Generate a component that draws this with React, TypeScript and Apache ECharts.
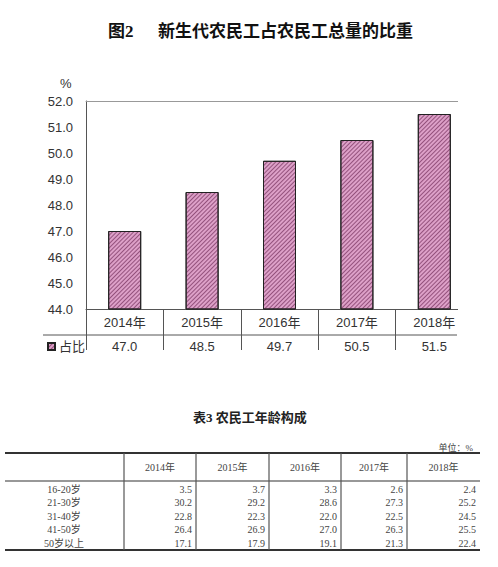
import React, { useEffect, useRef } from 'react';
import * as echarts from 'echarts';

const years = ['2014', '2015', '2016', '2017', '2018'];
const shares = [47.0, 48.5, 49.7, 50.5, 51.5];

const ageGroups = ['16-20岁', '21-30岁', '31-40岁', '41-50岁', '50岁以上'];
const age2014 = [3.5, 30.2, 22.8, 26.4, 17.1];
const age2015 = [3.7, 29.2, 22.3, 26.9, 17.9];
const age2016 = [3.3, 28.6, 22.0, 27.0, 19.1];
const age2017 = [2.6, 27.3, 22.5, 26.3, 21.3];
const age2018 = [2.4, 25.2, 24.5, 25.5, 22.4];
const ageColumns = [age2014, age2015, age2016, age2017, age2018];

const sans = "'Liberation Sans', Arial, 'Noto Sans CJK SC', sans-serif";
const serif = "'Liberation Serif', 'Noto Sans CJK SC', serif";

// table layout
const colEdges = [124, 196, 269, 341, 407, 480];
const tableLeft = 5;
const tableTop = 453;
const headBottom = 481;
const tableBottom = 550;
const rowY = [489, 502.5, 516, 529.5, 543];

const buildTable = () => {
  const els: any[] = [];
  const hline = (y: number, w: number) => ({
    type: 'line',
    shape: { x1: tableLeft, y1: y, x2: colEdges[colEdges.length - 1], y2: y },
    style: { stroke: '#333', lineWidth: w },
  });
  els.push(hline(tableTop, 2), hline(headBottom, 1.2), hline(tableBottom, 2));
  colEdges.slice(0, -1).forEach((x) => {
    els.push({
      type: 'line',
      shape: { x1: x, y1: tableTop, x2: x, y2: tableBottom },
      style: { stroke: '#555', lineWidth: 1.2 },
    });
  });
  years.forEach((y, i) => {
    els.push({
      type: 'text',
      x: (colEdges[i] + colEdges[i + 1]) / 2,
      y: (tableTop + headBottom) / 2,
      style: { text: `${y}年`, font: `10px ${serif}`, fill: '#444', align: 'center', verticalAlign: 'middle' },
    });
  });
  ageGroups.forEach((g, r) => {
    els.push({
      type: 'text',
      x: 64,
      y: rowY[r],
      style: { text: g, font: `10px ${serif}`, fill: '#444', align: 'center', verticalAlign: 'middle' },
    });
    ageColumns.forEach((col, c) => {
      els.push({
        type: 'text',
        x: colEdges[c + 1] - 4,
        y: rowY[r],
        style: { text: col[r].toFixed(1), font: `10px ${serif}`, fill: '#444', align: 'right', verticalAlign: 'middle' },
      });
    });
  });
  return els;
};

const App = () => {
  const chartRef = useRef<HTMLDivElement>(null);

  useEffect(() => {
    document.body.style.margin = '0';
    if (!chartRef.current) return;
    const chart = echarts.init(chartRef.current, undefined, { renderer: 'svg' });

    const option: any = {
      animation: false,
      backgroundColor: '#fff',
      title: [
        {
          text: '图2',
          left: 103,
          top: 18,
          textStyle: { fontSize: 17, fontWeight: 'bold', color: '#111', fontFamily: serif },
        },
        {
          text: '新生代农民工占农民工总量的比重',
          left: 153,
          top: 18,
          textStyle: { fontSize: 17, fontWeight: 'bold', color: '#111', fontFamily: serif },
        },
        {
          text: '%',
          left: 55,
          top: 72,
          textStyle: { fontSize: 13, fontWeight: 'normal', color: '#333', fontFamily: sans },
        },
        {
          text: '表3 农民工年龄构成',
          left: 188,
          top: 406,
          textStyle: { fontSize: 13, fontWeight: 'bold', color: '#222', fontFamily: serif },
        },
        {
          text: '单位：%',
          right: 20,
          top: 438,
          textStyle: { fontSize: 9, fontWeight: 'normal', color: '#444', fontFamily: serif },
        },
      ],
      legend: {
        data: ['占比'],
        left: 42,
        top: 335,
        icon: 'rect',
        itemWidth: 7,
        itemHeight: 7,
        itemGap: 5,
        textStyle: { fontSize: 13, color: '#333', fontFamily: sans, padding: [0, 0, 0, -1] },
      },
      grid: { left: 86, top: 101, width: 387, height: 208 },
      xAxis: [
        {
          type: 'category',
          data: years.map((y) => `${y}年`),
          position: 'bottom',
          axisLine: { lineStyle: { color: '#555', width: 1 } },
          axisTick: { show: true, length: 41, lineStyle: { color: '#555' } },
          axisLabel: { margin: 7, fontSize: 13, color: '#333', fontFamily: sans },
        },
        {
          type: 'category',
          data: shares.map((v) => v.toFixed(1)),
          position: 'bottom',
          offset: 26,
          axisLine: { show: false },
          axisTick: { show: false },
          axisLabel: { margin: 5, fontSize: 13, color: '#333', fontFamily: sans },
        },
        {
          type: 'category',
          data: years,
          position: 'top',
          axisLine: { lineStyle: { color: '#999', width: 1 } },
          axisTick: { show: false },
          axisLabel: { show: false },
        },
      ],
      yAxis: {
        type: 'value',
        min: 44,
        max: 52,
        interval: 1,
        axisLine: { show: true, lineStyle: { color: '#555' } },
        axisTick: { show: false },
        splitLine: { show: false },
        axisLabel: {
          margin: 13,
          fontSize: 13,
          color: '#333',
          fontFamily: sans,
          formatter: (v: number) => v.toFixed(1),
        },
      },
      series: [
        {
          name: '占比',
          type: 'bar',
          xAxisIndex: 0,
          data: shares,
          barWidth: 33,
          itemStyle: {
            color: '#DDA0C8',
            borderColor: '#222',
            borderWidth: 1,
            decal: {
              symbol: 'rect',
              symbolSize: 1,
              color: 'rgba(100,30,75,0.6)',
              dashArrayX: [1, 0],
              dashArrayY: [0.8, 1.6],
              rotation: -Math.PI / 4,
            },
          },
        },
      ],
      graphic: [
        {
          type: 'line',
          shape: { x1: 43, y1: 335, x2: 457, y2: 335 },
          style: { stroke: '#555', lineWidth: 1 },
        },
        {
          type: 'rect',
          z: 100,
          shape: { x: 458, y: 95, width: 30, height: 262 },
          style: { fill: '#fff' },
        },
        ...buildTable(),
      ],
    };

    chart.setOption(option);
    return () => {
      chart.dispose();
    };
  }, []);

  return <div ref={chartRef} style={{ width: '498px', height: '567px' }} />;
};

export default App;
